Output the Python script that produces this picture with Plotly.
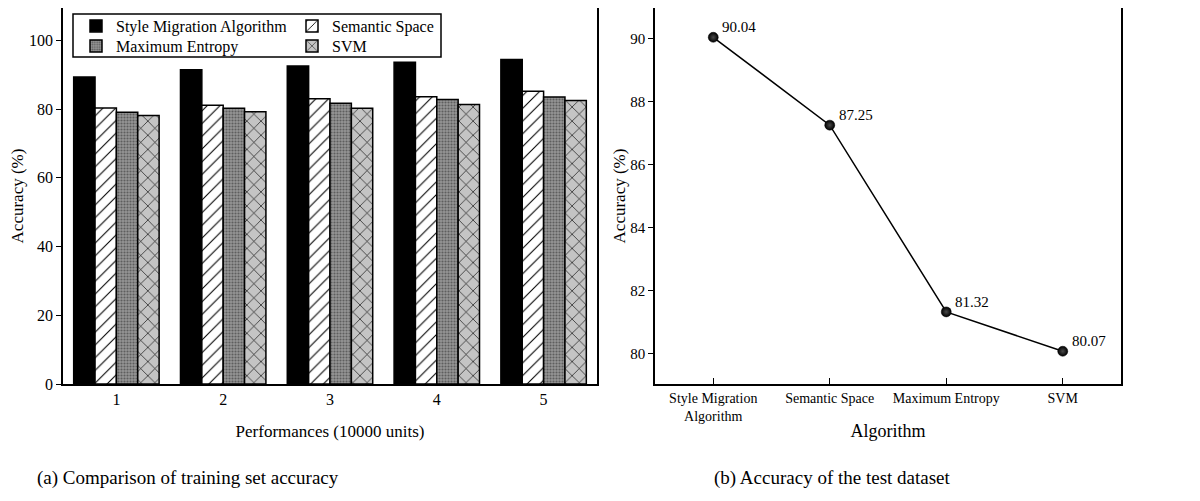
import plotly.graph_objects as go

# ---- data (a) ----
groups = [1, 2, 3, 4, 5]
style_migration = [89.3, 91.4, 92.5, 93.6, 94.4]
semantic_space = [80.3, 81.1, 83.0, 83.6, 85.2]
maximum_entropy = [79.1, 80.2, 81.7, 82.8, 83.5]
svm = [78.1, 79.2, 80.2, 81.3, 82.5]

# ---- data (b) ----
algorithms = ["Style Migration<br>Algorithm", "Semantic Space", "Maximum Entropy", "SVM"]
test_accuracy = [90.04, 87.25, 81.32, 80.07]

FONT = "Liberation Serif, Times New Roman, serif"
W, H = 1200, 501
OFF = 8  # page body margin

def px(x):
    return (x - OFF) / W

def py(y):
    return min(1.0, 1 - (y - OFF) / H)

fig = go.Figure()

line = dict(color="black", width=1.5)
fig.add_trace(go.Bar(x=groups, y=style_migration, name="Style Migration Algorithm",
                     marker=dict(color="black", line=line), legend="legend",
                     xaxis="x", yaxis="y"))
fig.add_trace(go.Bar(x=groups, y=semantic_space, name="Semantic Space",
                     marker=dict(color="white", line=line,
                                 pattern=dict(shape="/", bgcolor="white", fgcolor="black",
                                              size=9, solidity=0.12)),
                     legend="legend2", xaxis="x", yaxis="y"))
fig.add_trace(go.Bar(x=groups, y=maximum_entropy, name="Maximum Entropy",
                     marker=dict(color="#8a8a8a", line=line,
                                 pattern=dict(shape=".", bgcolor="#959595", fgcolor="#5e5e5e",
                                              size=3, solidity=0.4)),
                     legend="legend3", xaxis="x", yaxis="y"))
fig.add_trace(go.Bar(x=groups, y=svm, name="SVM",
                     marker=dict(color="#c4c4c4", line=line,
                                 pattern=dict(shape="x", bgcolor="#c4c4c4", fgcolor="black",
                                              size=10, solidity=0.12)),
                     legend="legend4", xaxis="x", yaxis="y"))

fig.add_trace(go.Scatter(x=algorithms, y=test_accuracy, mode="lines+markers",
                         line=dict(color="black", width=1.5),
                         marker=dict(size=10, color="black",
                                     gradient=dict(type="radial", color="#4a4a4a"),
                                     line=dict(color="black", width=0.5)),
                         showlegend=False, xaxis="x2", yaxis="y2"))

ydom = [py(384), py(8)]
axis_common = dict(showline=True, linecolor="black", linewidth=1.5, mirror=True,
                   showgrid=False, zeroline=False, automargin=False,
                   ticklen=5, tickwidth=1.2, tickcolor="black")

def legend_at(x, y):
    return dict(x=px(x), y=py(y), xanchor="left", yanchor="top", orientation="v",
                bgcolor="rgba(0,0,0,0)", borderwidth=0, tracegroupgap=0,
                font=dict(family=FONT, size=16, color="black"), itemwidth=30)

annotations = [
    dict(text="(a) Comparison of training set accuracy", x=px(188), y=py(478),
         xref="paper", yref="paper", showarrow=False, xanchor="center", yanchor="middle",
         font=dict(family=FONT, size=19, color="black")),
    dict(text="(b) Accuracy of the test dataset", x=px(832), y=py(478),
         xref="paper", yref="paper", showarrow=False, xanchor="center", yanchor="middle",
         font=dict(family=FONT, size=19, color="black")),
]
for cat, val in zip(algorithms, test_accuracy):
    annotations.append(dict(text=f"{val:.2f}", x=cat, y=val, xref="x2", yref="y2",
                            showarrow=False, xanchor="left", yanchor="middle",
                            xshift=7, yshift=10,
                            font=dict(family=FONT, size=15, color="black")))

fig.update_layout(
    template="none",
    width=W, height=H,
    margin=dict(l=0, r=0, t=0, b=0),
    paper_bgcolor="white", plot_bgcolor="white",
    font=dict(family=FONT, color="black"),
    barmode="group", bargap=0.2, bargroupgap=0,
    xaxis=dict(domain=[px(63), px(597)], range=[0.5, 5.5], tickvals=groups,
               ticks="", anchor="y",
               tickfont=dict(family=FONT, size=16, color="black"),
               title=dict(text="Performances (10000 units)", font=dict(family=FONT, size=17),
                          standoff=18),
               **axis_common),
    yaxis=dict(domain=ydom, range=[0, 109.4], tickvals=[0, 20, 40, 60, 80, 100],
               ticks="outside", anchor="x",
               tickfont=dict(family=FONT, size=16, color="black"),
               title=dict(text="Accuracy (%)", font=dict(family=FONT, size=17), standoff=1),
               **axis_common),
    xaxis2=dict(domain=[px(655), px(1121)], range=[-0.5, 3.5], type="category",
                anchor="y2",
                **{k: v for k, v in axis_common.items() if k != "ticklen"},
                ticks="inside", ticklen=6,
                tickfont=dict(family=FONT, size=14, color="black"),
                title=dict(text="Algorithm", font=dict(family=FONT, size=18), standoff=2)),
    yaxis2=dict(domain=ydom, range=[79.03, 90.97], tickvals=[80, 82, 84, 86, 88, 90],
                ticks="outside", anchor="x2",
                **axis_common,
                tickfont=dict(family=FONT, size=15, color="black"),
                title=dict(text="Accuracy (%)", font=dict(family=FONT, size=17), standoff=0)),
    legend=legend_at(76, 9),
    legend2=legend_at(292, 9),
    legend3=legend_at(76, 29),
    legend4=legend_at(292, 29),
    shapes=[dict(type="rect", xref="paper", yref="paper",
                 x0=px(73), x1=px(441), y0=py(57), y1=py(14),
                 line=dict(color="black", width=1.5), fillcolor="rgba(0,0,0,0)")],
    annotations=annotations,
)

fig.write_html("out.html")
